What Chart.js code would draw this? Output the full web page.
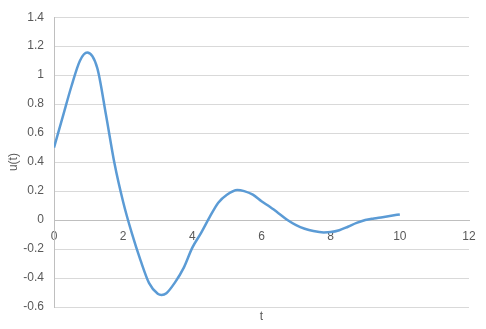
<!DOCTYPE html>
<html>
<head>
<meta charset="utf-8">
<script src="https://cdn.jsdelivr.net/npm/chart.js@4.4.0/dist/chart.umd.min.js"></script>
<style>
  body { margin: 0; background: #ffffff; }
  .box { width: 486px; height: 329px; }
</style>
</head>
<body>
<div class="box"><canvas id="plot"></canvas></div>
<script>
//values (extra samples at the turning points)
let tValues = [
  0, 0.25, 0.5, 0.75, 0.96, 1.25, 1.5, 1.75, 2, 2.25, 2.5, 2.75, 3, 3.11, 3.25, 3.5, 3.75, 4, 4.25, 4.5,
  4.75, 5, 5.3, 5.5, 5.75, 6, 6.25, 6.5, 6.75, 7, 7.25, 7.5, 7.8, 8, 8.25, 8.5, 8.75, 9, 9.25, 9.5, 9.75, 10,
];
let uValues = [
  0.5, 0.71, 0.92, 1.1, 1.156, 1.05, 0.73, 0.39, 0.125, -0.09, -0.276, -0.435, -0.509, -0.517, -0.505,
  -0.43, -0.33, -0.19, -0.09, 0.02, 0.12, 0.175, 0.208, 0.2, 0.175, 0.13, 0.09, 0.046, 0.0, -0.035,
  -0.06, -0.076, -0.085, -0.083, -0.07, -0.046, -0.02, 0.0, 0.011, 0.02, 0.03, 0.039,
];

let xTicks = [0, 2, 4, 6, 8, 10, 12];
let yTicks = [-0.6, -0.4, -0.2, 0, 0.2, 0.4, 0.6, 0.8, 1, 1.2, 1.4];

let labelFont = { family: "'Liberation Sans', Arial, sans-serif", size: 12 };
let labelColor = "#595959";

//draws the "t" title under the plot
let xTitle = {
  id: "xTitle",
  afterDraw: (chart) => {
    let ctx = chart.ctx;
    let area = chart.chartArea;
    ctx.save();
    ctx.font = "12px 'Liberation Sans', Arial, sans-serif";
    ctx.fillStyle = labelColor;
    ctx.textAlign = "center";
    ctx.textBaseline = "middle";
    ctx.fillText("t", (area.left + area.right) / 2, 317);
    ctx.restore();
  },
};

let plot = new Chart(document.getElementById("plot"), {
  type: "scatter",
  data: {
    datasets: [
      {
        data: tValues.map((t, i) => ({ x: t, y: uValues[i] })),
        showLine: true,
        borderColor: "#5b9bd5",
        borderWidth: 2.5,
        pointRadius: 0,
        cubicInterpolationMode: "monotone",
        fill: false,
      },
    ],
  },
  plugins: [xTitle],
  options: {
    responsive: true,
    maintainAspectRatio: false,
    animation: false,
    layout: { padding: { left: 0, right: 17, top: 17, bottom: 22 } },
    plugins: {
      legend: { display: false },
      tooltip: { enabled: false },
    },
    scales: {
      x: {
        type: "linear",
        position: { y: 0 },
        min: 0,
        max: 12,
        afterBuildTicks: (scale) => {
          scale.ticks = xTicks.map((v) => ({ value: v }));
        },
        grid: { display: true, color: "rgba(0,0,0,0)", drawTicks: true, tickLength: 9 },
        border: { display: true, color: "#bfbfbf", width: 1 },
        ticks: { color: labelColor, font: labelFont, padding: 0, maxRotation: 0 },
      },
      y: {
        type: "linear",
        position: "left",
        min: -0.6,
        max: 1.4,
        afterBuildTicks: (scale) => {
          scale.ticks = yTicks.map((v) => ({ value: v }));
        },
        afterFit: (scale) => {
          scale.width = 54;
        },
        grid: { color: "#d9d9d9", drawTicks: false },
        border: { display: true, color: "#bfbfbf", width: 1 },
        ticks: {
          color: labelColor,
          font: labelFont,
          padding: 10,
          callback: (v) => String(Math.round(v * 10) / 10),
        },
        title: {
          display: true,
          text: "u(t)",
          color: labelColor,
          font: labelFont,
          padding: { top: 6, bottom: 0 },
        },
      },
    },
  },
});
</script>
</body>
</html>
